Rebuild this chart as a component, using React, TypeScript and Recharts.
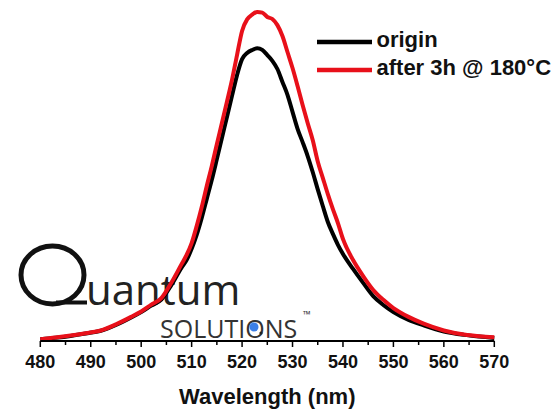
import React from 'react';
import { LineChart, Line, XAxis, YAxis } from 'recharts';

// ---- data ----
const wavelengths = [
  480, 483, 486, 489, 492, 495, 498, 500, 502, 504, 506, 508,
  509, 510, 511, 512, 513, 514, 515, 516, 517, 518, 519, 520, 521, 522, 523, 524,
  525, 526, 527, 528, 529, 530, 531, 532, 533, 534, 535, 536, 537, 538, 539, 540,
  542, 544, 546, 548, 550, 553, 556, 560, 564, 567, 570,
];
const originValues = [
  0.005, 0.0095, 0.015, 0.022, 0.03, 0.047, 0.069, 0.085, 0.104, 0.122, 0.165, 0.216,
  0.238, 0.271, 0.312, 0.362, 0.418, 0.474, 0.535, 0.597, 0.659, 0.721, 0.782, 0.829, 0.847, 0.856, 0.861, 0.856,
  0.841, 0.824, 0.8, 0.762, 0.724, 0.674, 0.624, 0.585, 0.544, 0.497, 0.446, 0.397, 0.35, 0.315, 0.283, 0.256,
  0.212, 0.171, 0.132, 0.106, 0.085, 0.062, 0.046, 0.028, 0.018, 0.013, 0.009,
];
const afterValues = [
  0.005, 0.01, 0.016, 0.023, 0.031, 0.049, 0.071, 0.087, 0.107, 0.126, 0.172, 0.226,
  0.253, 0.288, 0.338, 0.394, 0.456, 0.515, 0.579, 0.641, 0.704, 0.768, 0.841, 0.912, 0.946, 0.96, 0.968, 0.966,
  0.953, 0.947, 0.929, 0.897, 0.85, 0.803, 0.75, 0.694, 0.641, 0.591, 0.528, 0.48, 0.432, 0.388, 0.347, 0.3,
  0.238, 0.191, 0.15, 0.121, 0.097, 0.071, 0.051, 0.031, 0.019, 0.014, 0.011,
];
const tickValues = [480, 485, 490, 495, 500, 505, 510, 515, 520, 525, 530, 535, 540, 545, 550, 555, 560, 565, 570];
const seriesNames = ['origin', 'after 3h @ 180°C'];
const seriesColors = ['#000000', '#e8101a'];
const axisTitle = 'Wavelength (nm)';

const rows = wavelengths.map((nm, i) => ({ nm, origin: originValues[i], after: afterValues[i] }));

const FONT = '"Liberation Sans", Arial, sans-serif';

const Tick = (props: any) => {
  const { x, y, payload } = props;
  const major = payload.value % 10 === 0;
  return (
    <g>
      <line x1={x} x2={x} y1={y} y2={y + (major ? 6 : 4)} stroke="#000" strokeWidth={1.5} />
      {major && (
        <text x={x} y={y + 27} textAnchor="middle" fontFamily={FONT} fontWeight="bold" fontSize={18} fill="#111">
          {payload.value}
        </text>
      )}
    </g>
  );
};

const AxisTitle = (props: any) => {
  const vb = props.viewBox || {};
  return (
    <text x={vb.x + vb.width / 2} y={vb.y + 63} textAnchor="middle" fontFamily={FONT} fontWeight="bold" fontSize={22} fill="#111">
      {axisTitle}
    </text>
  );
};

const Logo = () => (
  <svg width={559} height={409} style={{ position: 'absolute', left: 0, top: 0 }}>
    <ellipse cx={52.5} cy={275} rx={31.5} ry={29} fill="none" stroke="#111" strokeWidth={5} />
    <line x1={56} y1={302.5} x2={87} y2={302.5} stroke="#111" strokeWidth={4} />
    <text x={86} y={305} fontFamily='"Open Sans", sans-serif' fontSize={42} fill="#222">uantum</text>
    <text x={160} y={338} fontFamily='"Open Sans", sans-serif' fontSize={25} fill="#333">SOLUTIONS</text>
    <circle cx={254} cy={327} r={4.5} fill="#3b7fe6" />
    <circle cx={261} cy={333} r={1.6} fill="#222" />
    <text x={303} y={318} fontFamily='"Open Sans", sans-serif' fontSize={10} fill="#333">™</text>
  </svg>
);

const LegendBox = () => (
  <div style={{ position: 'absolute', left: 316.5, top: 27.5, fontFamily: FONT, fontWeight: 'bold', fontSize: 22, color: '#111' }}>
    {seriesNames.map((name, i) => (
      <div key={name} style={{ display: 'flex', alignItems: 'center', height: 28.3 }}>
        <svg width={60} height={28} style={{ flex: 'none' }}>
          <line x1={0} x2={55} y1={14} y2={14} stroke={seriesColors[i]} strokeWidth={4.5} />
        </svg>
        <span style={{ position: 'relative', top: -2, whiteSpace: 'nowrap' }}>{name}</span>
      </div>
    ))}
  </div>
);

export default function App() {
  return (
    <div style={{ position: 'absolute', left: 0, top: 0, width: 559, height: 409, background: '#fff', overflow: 'hidden' }}>
      <Logo />
      <div style={{ position: 'absolute', left: 0, top: 0 }}>
        <LineChart width={559} height={409} data={rows} margin={{ top: 1, right: 64.7, bottom: 0, left: 40.3 }}>
          <XAxis
            dataKey="nm"
            type="number"
            domain={[480, 570]}
            ticks={tickValues}
            interval={0}
            height={68}
            axisLine={{ stroke: '#000', strokeWidth: 2 }}
            tickLine={false}
            tickSize={0}
            tickMargin={0}
            tick={<Tick />}
            label={<AxisTitle />}
          />
          <YAxis hide domain={[0, 1]} />
          <Line dataKey="origin" type="monotone" stroke={seriesColors[0]} strokeWidth={4} dot={false} isAnimationActive={false} />
          <Line dataKey="after" type="monotone" stroke={seriesColors[1]} strokeWidth={4} dot={false} isAnimationActive={false} />
        </LineChart>
      </div>
      <LegendBox />
    </div>
  );
}
